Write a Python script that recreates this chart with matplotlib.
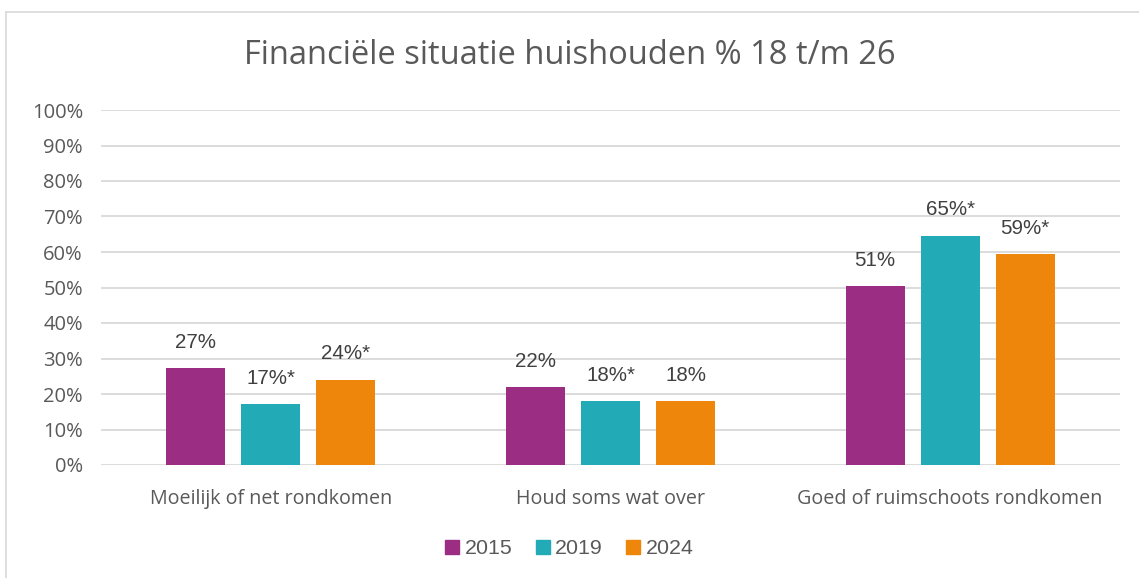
import numpy as np
import matplotlib.pyplot as plt
from matplotlib.lines import Line2D
from matplotlib.patches import Patch

categories = ["Moeilijk of net rondkomen", "Houd soms wat over", "Goed of ruimschoots rondkomen"]
years = ["2015", "2019", "2024"]
values_2015 = [27.3, 22.0, 50.4]
values_2019 = [17.2, 18.0, 64.6]
values_2024 = [24.0, 17.9, 59.3]
labels_2015 = ["27%", "22%", "51%"]
labels_2019 = ["17%*", "18%*", "65%*"]
labels_2024 = ["24%*", "18%", "59%*"]

colors = ["#9B2D82", "#22AAB6", "#EE860B"]
text_col = "#595959"
label_font = "Liberation Sans"
main_font = "Open Sans"

W, H = 1139, 578
fig = plt.figure(figsize=(W / 100, H / 100), dpi=100)
ax = fig.add_axes([101 / W, 1 - 465 / H, (1120 - 101) / W, (465 - 110) / H])

x = np.arange(len(categories))
step = 0.221
width = 0.174
series = [values_2015, values_2019, values_2024]
labels = [labels_2015, labels_2019, labels_2024]
for i, (vals, labs) in enumerate(zip(series, labels)):
    pos = x + (i - 1) * step
    ax.bar(pos, vals, width, color=colors[i], zorder=3)
    for p, v, t in zip(pos, vals, labs):
        ax.text(p, v + 4.6, t, ha="center", va="bottom", fontsize=14.8,
                color="#404040", family=label_font)

ax.set_xlim(-0.5, 2.5)
ax.set_ylim(0, 100)
ax.set_yticks(np.arange(0, 101, 10))
ax.set_yticklabels([f"{t}%" for t in range(0, 101, 10)], family=main_font,
                   fontsize=14.5, fontstretch="normal", color=text_col)
ax.set_xticks(x)
ax.set_xticklabels(categories, family=main_font, fontsize=14.2, color=text_col)
ax.tick_params(length=0)
ax.tick_params(axis="y", pad=13)
ax.tick_params(axis="x", pad=17)
ax.grid(axis="y", color="#D9D9D9", linewidth=1.3, zorder=0)
for s in ax.spines.values():
    s.set_visible(False)

fig.text(0.5, 1 - 56 / H, "Financiële situatie huishouden % 18 t/m 26",
         ha="center", va="center", fontsize=23.5, color=text_col,
         family=main_font)

handles = [Patch(color=c) for c in colors]
fig.legend(handles, years, loc="center", bbox_to_anchor=(0.5, 1 - 549 / H),
           ncol=3, frameon=False, prop={"family": label_font, "size": 15.4},
           labelcolor=text_col, handlelength=0.65, handleheight=0.65,
           handletextpad=0.25, columnspacing=1.1)

# chart border
fig.add_artist(Line2D([6 / W, 1], [1 - 12 / H, 1 - 12 / H], color="#D9D9D9", lw=1.2))
fig.add_artist(Line2D([6 / W, 6 / W], [0, 1 - 12 / H], color="#D9D9D9", lw=1.2))

fig.savefig("out.png", dpi=100)
